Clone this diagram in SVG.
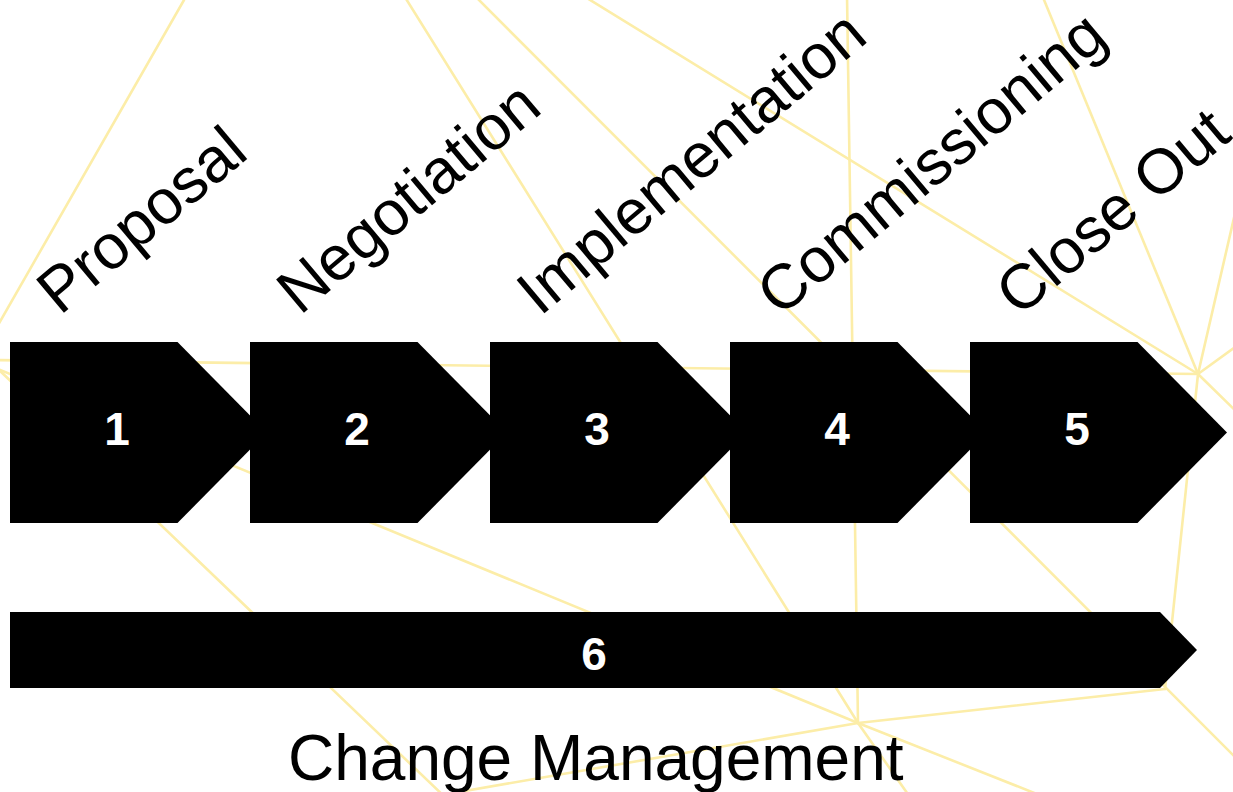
<svg xmlns="http://www.w3.org/2000/svg" width="1233" height="792" viewBox="0 0 1233 792">
<style>
.bg{fill:none;stroke:#FCEDA8;stroke-width:2.6;stroke-linecap:round}
.shape{fill:#000}
.num{font-family:"Liberation Sans",Arial,sans-serif;font-weight:bold;font-size:46px;fill:#fff;text-anchor:middle}
.lbl{font-family:"Liberation Sans",Arial,sans-serif;font-size:63px;fill:#000}
.title{font-family:"Liberation Sans",Arial,sans-serif;font-size:64px;fill:#000}
</style>
<rect width="1233" height="792" fill="#fff"/>
<g id="connectors">
<line class="bg" x1="184" y1="0" x2="-30" y2="374"/>
<line class="bg" x1="403" y1="-6" x2="858" y2="723"/>
<line class="bg" x1="473" y1="-6" x2="1240" y2="762"/>
<line class="bg" x1="847" y1="-5" x2="858" y2="723"/>
<line class="bg" x1="582" y1="-5" x2="1198" y2="374"/>
<line class="bg" x1="1042" y1="-5" x2="1198" y2="374"/>
<line class="bg" x1="1198" y1="374" x2="1245" y2="170"/>
<line class="bg" x1="1198" y1="374" x2="1245" y2="340"/>
<line class="bg" x1="1198" y1="374" x2="1245" y2="420"/>
<line class="bg" x1="-10" y1="360" x2="1198" y2="374"/>
<line class="bg" x1="-2" y1="369" x2="448" y2="800"/>
<line class="bg" x1="-2" y1="369" x2="858" y2="723"/>
<line class="bg" x1="858" y1="723" x2="430" y2="797"/>
<line class="bg" x1="858" y1="723" x2="1165" y2="689"/>
<line class="bg" x1="858" y1="723" x2="1052" y2="800"/>
<line class="bg" x1="858" y1="723" x2="912" y2="800"/>
<line class="bg" x1="1198" y1="374" x2="1165" y2="689"/>
</g>
<g id="step1">
<path class="shape" d="M10,342 H177.5 L267,432.5 L177.5,523 H10 Z"/>
<text class="num" x="117" y="445">1</text>
</g>
<g id="step2">
<path class="shape" d="M250,342 H417.5 L507,432.5 L417.5,523 H250 Z"/>
<text class="num" x="357" y="445">2</text>
</g>
<g id="step3">
<path class="shape" d="M490,342 H657.5 L747,432.5 L657.5,523 H490 Z"/>
<text class="num" x="597" y="445">3</text>
</g>
<g id="step4">
<path class="shape" d="M730,342 H897.5 L987,432.5 L897.5,523 H730 Z"/>
<text class="num" x="837" y="445">4</text>
</g>
<g id="step5">
<path class="shape" d="M970,342 H1137.5 L1227,432.5 L1137.5,523 H970 Z"/>
<text class="num" x="1077" y="445">5</text>
</g>
<g id="step6">
<path class="shape" d="M10,612 H1160 L1197,650 L1160,688 H10 Z"/>
<text class="num" x="594" y="670">6</text>
</g>
<g id="labels">
<text class="lbl" transform="translate(60,316) rotate(-40)">Proposal</text>
<text class="lbl" transform="translate(300,316) rotate(-40)">Negotiation</text>
<text class="lbl" transform="translate(540,317) rotate(-40)">Implementation</text>
<text class="lbl" transform="translate(780,318) rotate(-40)">Commissioning</text>
<text class="lbl" transform="translate(1019,318) rotate(-40)">Close Out</text>
<text class="title" x="288" y="780">Change Management</text>
</g>
</svg>
